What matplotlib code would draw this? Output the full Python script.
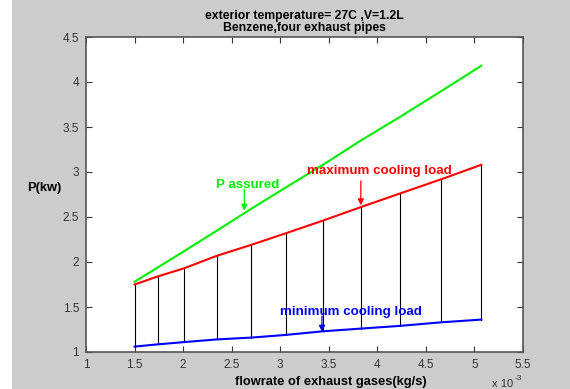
import numpy as np
import matplotlib.pyplot as plt
from matplotlib.patches import Rectangle
from matplotlib.ticker import FuncFormatter, MultipleLocator

plt.rcParams['font.family'] = ['Liberation Sans', 'DejaVu Sans']

# flowrate in units of 10^-3 kg/s
flow = [1.50, 1.74, 2.01, 2.35, 2.70, 3.06, 3.44, 3.83, 4.23, 4.66, 5.07]
p_assured = [1.78, 1.94, 2.12, 2.35, 2.59, 2.83, 3.08, 3.35, 3.61, 3.90, 4.18]
max_load = [1.75, 1.84, 1.93, 2.07, 2.19, 2.32, 2.46, 2.61, 2.76, 2.92, 3.08]
min_load = [1.06, 1.085, 1.11, 1.14, 1.16, 1.19, 1.23, 1.26, 1.29, 1.33, 1.36]

x = np.array(flow) * 1e-3
W, H = 570, 389

fig = plt.figure(figsize=(W / 100, H / 100), dpi=100, facecolor="white")
fig.patches.append(Rectangle((12 / W, 0), 1 - 12 / W, 1, transform=fig.transFigure,
                             facecolor="#cccccc", edgecolor="none", zorder=-10))
ax = fig.add_axes([86 / W, 1 - 352 / H, (523 - 86) / W, (352 - 37) / H])
ax.set_facecolor("white")

# vertical lines between minimum and maximum load
for xi, lo, hi in zip(x, min_load, max_load):
    ax.plot([xi, xi], [lo, hi], color="black", lw=0.8)

ax.plot(x, p_assured, color="#00ee00", lw=1.5)
ax.plot(x, max_load, color="#ff0000", lw=1.5)
ax.plot(x, min_load, color="#0000ff", lw=1.5)

arrow = dict(arrowstyle="-|>", lw=0.9, mutation_scale=9, shrinkA=0, shrinkB=0)
lab = dict(fontsize=9.6, fontweight="bold", va="center")
ax.annotate("", xy=(2.63e-3, 2.57), xytext=(2.63e-3, 2.81),
            arrowprops=dict(arrow, color="#00ee00"))
ax.text(2.34e-3, 2.86, "P assured", color="#00ee00", **lab)
ax.annotate("", xy=(3.83e-3, 2.63), xytext=(3.83e-3, 2.90),
            arrowprops=dict(arrow, color="#ff0000"))
ax.text(3.28e-3, 3.01, "maximum cooling load", color="#ff0000", **lab)
ax.annotate("", xy=(3.43e-3, 1.225), xytext=(3.43e-3, 1.40),
            arrowprops=dict(arrow, color="#0000ff"))
ax.text(3.0e-3, 1.44, "minimum cooling load", color="#0000ff", **lab)

ax.set_xlim(1e-3, 5.5e-3)
ax.set_ylim(1, 4.5)
ax.xaxis.set_major_locator(MultipleLocator(0.5e-3))
ax.yaxis.set_major_locator(MultipleLocator(0.5))
ax.xaxis.set_major_formatter(FuncFormatter(lambda v, p: "%g" % round(v * 1e3, 2)))
ax.yaxis.set_major_formatter(FuncFormatter(lambda v, p: "%g" % v))
ax.tick_params(direction="in", length=4, width=0.8, top=True, right=True,
               labelsize=8.5, colors="#333333", labelcolor="#333333", pad=5)
for s in ax.spines.values():
    s.set_color("#555555")
    s.set_linewidth(1.2)

ax.set_title("exterior temperature= 27C ,V=1.2L\nBenzene,four exhaust pipes",
             fontsize=8.8, fontweight="bold", pad=4, linespacing=1.1)
fig.text(331 / W, 1 - 382 / H, "flowrate of exhaust gases(kg/s)", fontsize=9.3,
         fontweight="bold", ha="center", va="center")
fig.text(44 / W, 1 - 188 / H, "P(kw)", fontsize=9.3, fontweight="bold",
         ha="center", va="center")
fig.text(492 / W, 1 - 384 / H, "x 10", fontsize=8, color="#333333", va="center")
fig.text(515 / W, 1 - 378 / H, "-3", fontsize=6, color="#333333", va="center")

fig.savefig("out.png", dpi=100, facecolor=fig.get_facecolor())
